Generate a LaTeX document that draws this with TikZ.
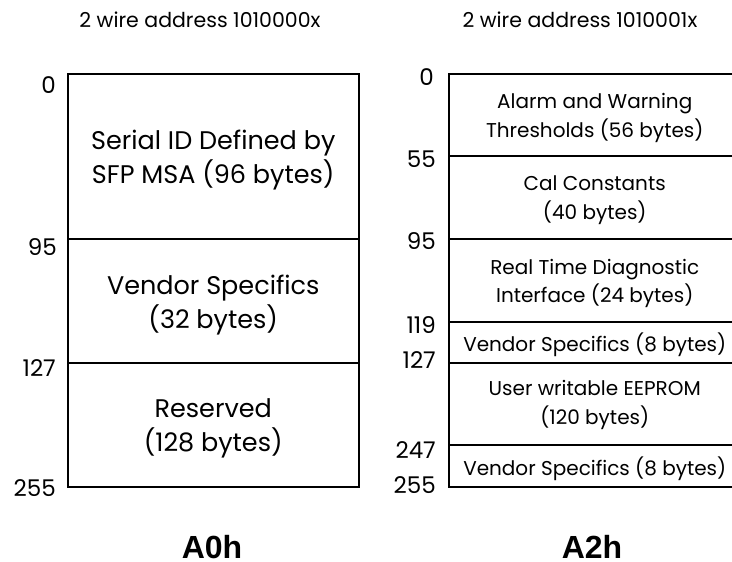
\documentclass[tikz,border=0pt]{standalone}
\usepackage{fontspec}
\setmainfont{Poppins}
\newfontfamily\titlefont{Liberation Sans}

\begin{document}
\begin{tikzpicture}[
    x=1pt, y=-1pt,
    cell/.style={rectangle, draw, line width=1.5pt, anchor=north west, inner sep=0pt},
    bigcell/.style={cell, minimum width=291pt},
    smallcell/.style={cell, minimum width=292pt},
    bigtext/.style={align=center, inner sep=0pt, yshift=-4pt, font=\fontsize{25.5}{34}\selectfont},
    smalltext/.style={align=center, inner sep=0pt, yshift=-3pt, font=\fontsize{20}{28.5}\selectfont},
    offset/.style={anchor=east, inner sep=0pt, font=\fontsize{23}{23}\selectfont},
    addr/.style={inner sep=0pt, font=\fontsize{20.5}{21}\selectfont},
    title/.style={inner sep=0pt, font=\fontsize{32}{32}\titlefont\bfseries}
]
    \useasboundingbox (0,0) rectangle (732,562);
    \clip (0,0) rectangle (732,562);

    % A0h memory map
    \node[addr] (addrA0) at (200,20) {2 wire address 1010000x};
    \node[bigcell, minimum height=165pt] (serial) at (67,73) {};
    \node[bigcell, minimum height=124pt] (vendA0) at (67,238) {};
    \node[bigcell, minimum height=124pt] (reserved) at (67,362) {};
    \node[bigtext] (serialtxt) at (serial.center) {Serial ID Defined by\\SFP MSA (96 bytes)};
    \node[bigtext] (vendA0txt) at (vendA0.center) {Vendor Specifics\\(32 bytes)};
    \node[bigtext] (reservedtxt) at (reserved.center) {Reserved\\(128 bytes)};
    \node[offset] (a0o0) at (56,85) {0};
    \node[offset] (a0o95) at (57,247) {95};
    \node[offset] (a0o127) at (56,368) {127};
    \node[offset] (a0o255) at (56,488) {255};
    \node[title] (tA0) at (212,547) {A0h};

    % A2h memory map
    \node[addr] (addrA2) at (580,20) {2 wire address 1010001x};
    \node[smallcell, minimum height=82pt] (alarm) at (448,73) {};
    \node[smallcell, minimum height=83pt] (cal) at (448,155) {};
    \node[smallcell, minimum height=83pt] (diag) at (448,238) {};
    \node[smallcell, minimum height=41pt] (vendA2a) at (448,321) {};
    \node[smallcell, minimum height=82pt] (user) at (448,362) {};
    \node[smallcell, minimum height=42pt] (vendA2b) at (448,444) {};
    \node[smalltext] (alarmtxt) at (alarm.center) {Alarm and Warning\\Thresholds (56 bytes)};
    \node[smalltext] (caltxt) at (cal.center) {Cal Constants\\(40 bytes)};
    \node[smalltext] (diagtxt) at (diag.center) {Real Time Diagnostic\\Interface (24 bytes)};
    \node[smalltext] (vendA2atxt) at (vendA2a.center) {Vendor Specifics (8 bytes)};
    \node[smalltext, yshift=2pt] (usertxt) at (user.center) {User writable EEPROM\\(120 bytes)};
    \node[smalltext] (vendA2btxt) at (vendA2b.center) {Vendor Specifics (8 bytes)};
    \node[offset] (a2o0) at (434,77) {0};
    \node[offset] (a2o55) at (436,159) {55};
    \node[offset] (a2o95) at (436,241) {95};
    \node[offset] (a2o119) at (436,325) {119};
    \node[offset] (a2o127) at (436,360) {127};
    \node[offset] (a2o247) at (436,450) {247};
    \node[offset] (a2o255) at (436,485) {255};
    \node[title] (tA2) at (592,547) {A2h};

\end{tikzpicture}
\end{document}
